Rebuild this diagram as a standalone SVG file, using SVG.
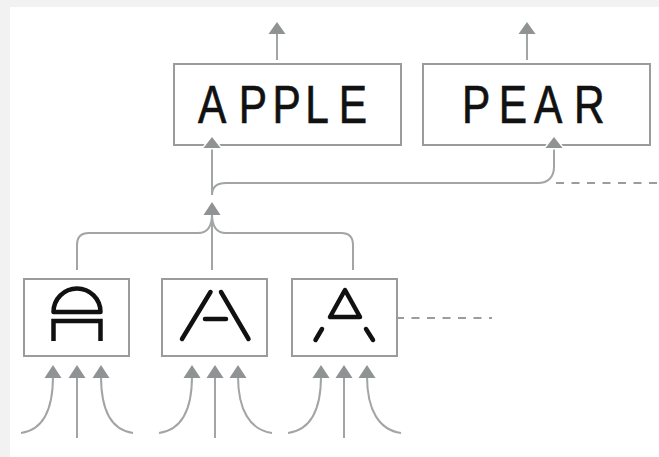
<svg xmlns="http://www.w3.org/2000/svg" width="659" height="457" viewBox="0 0 659 457">
<defs>
<style>
.box{fill:#fff;stroke:#9a9c9c;stroke-width:2}
.ln{fill:none;stroke:#a2a5a5;stroke-width:2}
.dash{fill:none;stroke:#9a9d9d;stroke-width:2;stroke-dasharray:8 7.5}
.hd{fill:#8f9393;stroke:#fff;stroke-width:3;paint-order:stroke;stroke-linejoin:round}
.hd2{fill:#8f9393}
.word{font-family:"Liberation Sans",Arial,sans-serif;font-size:53px;fill:#111;stroke:#111;stroke-width:0.7}
.gl{fill:none;stroke:#111;stroke-width:4.5;stroke-linecap:round;stroke-linejoin:round}
.glb{fill:none;stroke:#111;stroke-width:4.5;stroke-linecap:butt}
</style>
</defs>
<rect x="0" y="0" width="659" height="457" fill="#f2f2f2"/>
<rect x="10" y="7" width="649" height="450" fill="#fff"/>

<g id="connectors">
<path class="ln" d="M277,60 V33"/>
<polygon class="hd2" points="277,22 285.5,34 268.5,34"/>
<path class="ln" d="M527,60 V33"/>
<polygon class="hd2" points="527,22 535.5,34 518.5,34"/>
<path class="ln" d="M212,195 V146"/>
<path class="ln" d="M212,195 C212,187 216,183 226,183 H538 C548,183 554,177 554,167 V146"/>
<path class="dash" d="M556,183 H659"/>
<path class="ln" d="M77,270 V245 Q77,233 89,233 H198 C206,233 212,228 212,214"/>
<path class="ln" d="M353,270 V245 Q353,233 341,233 H226 C218,233 212,228 212,214"/>
<path class="ln" d="M212,270 V214"/>
<polygon class="hd2" points="212,202 220.5,215 203.5,215"/>
<path class="dash" d="M396,318 H492"/>
<!-- bottom inputs box 1 -->
<path class="ln" d="M77,438 V376"/>
<path class="ln" d="M21,433 C43,430 53,410 53,376"/>
<path class="ln" d="M133,433 C111,430 101,410 101,376"/>
<polygon class="hd2" points="53,365 61.5,378 44.5,378"/>
<polygon class="hd2" points="77,365 85.5,378 68.5,378"/>
<polygon class="hd2" points="101,365 109.5,378 92.5,378"/>
<!-- box 2 -->
<path class="ln" d="M215,438 V376"/>
<path class="ln" d="M159,433 C181,430 192,410 192,376"/>
<path class="ln" d="M272,433 C250,430 238,410 238,376"/>
<polygon class="hd2" points="192,365 200.5,378 183.5,378"/>
<polygon class="hd2" points="215,365 223.5,378 206.5,378"/>
<polygon class="hd2" points="238,365 246.5,378 229.5,378"/>
<!-- box 3 -->
<path class="ln" d="M344,438 V376"/>
<path class="ln" d="M288,433 C310,430 321,410 321,376"/>
<path class="ln" d="M401,433 C379,430 367,410 367,376"/>
<polygon class="hd2" points="321,365 329.5,378 312.5,378"/>
<polygon class="hd2" points="344,365 352.5,378 335.5,378"/>
<polygon class="hd2" points="367,365 375.5,378 358.5,378"/>
</g>

<g id="apple">
<rect class="box" x="174" y="64" width="227" height="81"/>
<text class="word" transform="translate(198,123) scale(0.8,1)" x="0 51 93 134 176">APPLE</text>
</g>
<g id="pear">
<rect class="box" x="423" y="64" width="227" height="81"/>
<text class="word" transform="translate(462,123) scale(0.8,1)" x="0 46 90 140">PEAR</text>
</g>

<g id="heads-over-boxes">
<polygon class="hd" points="212,137 220.5,148 203.5,148"/>
<polygon class="hd" points="554,137 562.5,148 545.5,148"/>
</g>

<g id="glyph-dome">
<rect class="box" x="24" y="279" width="105" height="77"/>
<path class="gl" d="M53.5,312 A23.5,23.5 0 0 1 100.5,312 Z"/>
<path class="glb" d="M53.5,341 V321 H100.5 V341"/>
</g>
<g id="glyph-split">
<rect class="box" x="162" y="279" width="105" height="77"/>
<path class="gl" d="M182,339 L210.5,292 M221,292 L248.5,339 M205,319 H226"/>
</g>
<g id="glyph-triangle">
<rect class="box" x="292" y="279" width="105" height="77"/>
<path class="gl" d="M345,290 L330,317 H360 Z M322,329 L315.5,340 M366,329 L373,340"/>
</g>
</svg>
